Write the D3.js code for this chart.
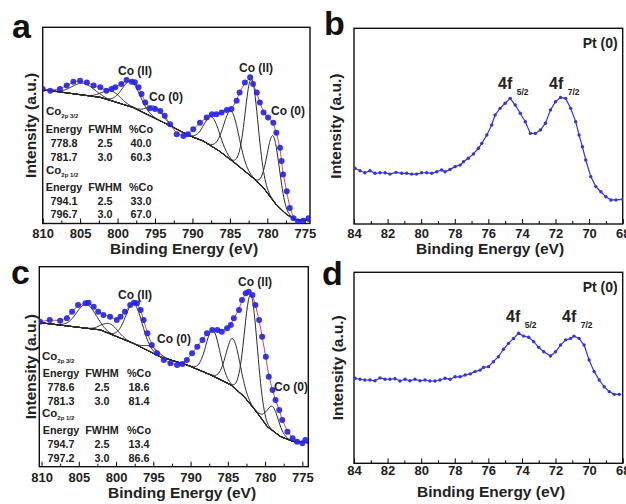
<!DOCTYPE html>
<html>
<head>
<meta charset="utf-8">
<script src="https://cdn.jsdelivr.net/npm/d3@7"></script>
<style>
  body { margin: 0; background: #fff; }
  svg { display: block; font-family: "Liberation Sans", Arial, sans-serif; font-weight: bold; }
</style>
</head>
<body>
<svg id="fig" width="626" height="504"></svg>
<script>
// Co 2p spectra (binding energy in eV, intensity in a.u.)
const CO_A_E = [810.0, 809.0, 807.7, 806.8, 805.9, 805.0, 804.1, 803.2, 802.3, 801.5, 800.8, 800.3, 799.5, 798.8, 798.1, 797.7, 797.2, 796.8, 796.3, 795.7, 795.0, 794.3, 793.7, 793.0, 792.1, 791.2, 790.6, 789.9, 789.0, 788.1, 787.4, 786.8, 786.1, 785.4, 784.8, 784.1, 783.7, 783.0, 782.3, 781.9, 781.4, 781.0, 780.5, 779.9, 779.2, 778.8, 778.3, 778.1, 777.9, 777.4, 777.0, 776.5, 775.9, 775.2, 774.5];
const CO_A_I = [68.6, 67.7, 68.6, 70.3, 72.3, 72.8, 71.9, 70.3, 69.4, 67.7, 68.6, 69.4, 71.1, 73.2, 72.3, 72.0, 69.4, 66.0, 61.7, 58.8, 58.3, 57.4, 54.9, 50.6, 45.5, 44.6, 45.5, 48.0, 51.4, 54.0, 55.7, 55.7, 56.6, 57.8, 58.3, 62.6, 66.8, 71.9, 74.5, 71.1, 66.8, 61.7, 56.6, 54.0, 51.4, 46.3, 38.6, 31.9, 25.0, 16.4, 7.9, 2.7, 1.0, 1.4, 2.7];
const CO_A_BG_E = [810.0, 802.3, 797.9, 793.4, 790.3, 788.6, 786.4, 784.1, 781.9, 780.5, 778.8, 777.4, 776.1, 774.3];
const CO_A_BG_I = [68.2, 64.3, 59.1, 50.6, 44.6, 42.1, 36.9, 30.1, 23.2, 18.1, 9.6, 4.5, 1.9, 1.4];
// fitted components: [centre, FWHM, height above background]
const CO_A_PEAKS = [[804.6, 3.4, 6], [800.8, 2.8, 5], [798.2, 2.8, 13], [795.0, 2.4, 6], [787.4, 2.4, 15], [784.8, 2.4, 25], [782.1, 2.0, 50], [779.2, 1.9, 33]];
const CO_A_TABLE_32 = [["778.8", "2.5", "40.0"], ["781.7", "3.0", "60.3"]];
const CO_A_TABLE_12 = [["794.1", "2.5", "33.0"], ["796.7", "3.0", "67.0"]];

const CO_C_E = [810.2, 808.9, 807.5, 806.6, 805.9, 805.1, 804.1, 803.7, 803.0, 802.4, 801.7, 800.8, 799.9, 799.4, 798.8, 798.1, 797.6, 797.2, 796.7, 796.3, 795.8, 795.2, 794.5, 793.6, 792.7, 791.8, 791.1, 790.5, 789.8, 789.1, 788.4, 787.8, 787.1, 786.4, 785.8, 785.1, 784.6, 784.2, 783.5, 783.1, 782.6, 782.2, 781.7, 781.3, 780.8, 780.4, 779.9, 779.5, 779.0, 778.6, 778.1, 777.7, 777.0, 776.3, 775.7, 775.0, 774.6];
const CO_C_I = [72.5, 73.4, 73.0, 74.2, 77.5, 80.9, 81.7, 82.0, 80.0, 77.5, 75.9, 75.0, 73.4, 75.0, 77.5, 80.9, 82.0, 81.7, 78.4, 73.4, 66.7, 60.9, 56.7, 53.4, 51.7, 50.9, 51.4, 53.4, 56.7, 60.0, 63.4, 66.7, 68.4, 68.4, 67.5, 69.2, 70.9, 74.2, 78.4, 83.4, 86.7, 87.5, 85.9, 80.9, 73.4, 65.0, 55.0, 45.0, 38.4, 33.4, 28.4, 23.4, 17.5, 14.2, 12.5, 11.7, 13.4];
const CO_C_BG_E = [810.2, 802.1, 797.7, 794.1, 790.5, 787.3, 784.6, 782.8, 781.0, 779.7, 777.9, 776.1, 774.2];
const CO_C_BG_I = [72.0, 68.4, 61.7, 55.0, 50.9, 45.9, 40.9, 35.0, 26.7, 20.0, 15.0, 12.5, 12.0];
const CO_C_PEAKS = [[804.0, 3.0, 12], [800.8, 2.5, 5], [797.6, 2.6, 20], [795.2, 2.2, 3], [787.0, 2.2, 23], [784.3, 2.2, 24], [781.9, 2.0, 55], [779.0, 1.9, 12]];
const CO_C_TABLE_32 = [["778.6", "2.5", "18.6"], ["781.3", "3.0", "81.4"]];
const CO_C_TABLE_12 = [["794.7", "2.5", "13.4"], ["797.2", "3.0", "86.6"]];

// Pt 4f spectra
const PT_B_E = [83.94, 83.64, 83.35, 83.05, 82.75, 82.45, 82.15, 81.86, 81.5, 81.16, 80.86, 80.57, 80.27, 79.97, 79.67, 79.37, 79.07, 78.78, 78.58, 78.28, 77.98, 77.68, 77.48, 77.19, 76.89, 76.59, 76.39, 76.09, 75.8, 75.6, 75.3, 75.0, 74.7, 74.4, 74.1, 73.8, 73.5, 73.2, 72.9, 72.6, 72.3, 72.0, 71.7, 71.4, 71.1, 70.8, 70.6, 70.4, 70.2, 69.9, 69.6, 69.3, 69.0, 68.7, 68.4, 68.0];
const PT_B_I = [28.5, 27.2, 26.2, 27.2, 25.9, 26.2, 26.2, 25.5, 26.4, 25.9, 25.9, 25.5, 25.5, 26.2, 26.2, 25.9, 26.7, 27.6, 26.7, 27.9, 29.3, 30.1, 31.8, 33.6, 35.8, 38.7, 41.2, 45.5, 50.6, 55.7, 59.1, 61.7, 64.2, 60.8, 56.6, 52.3, 46.3, 46.3, 48.0, 51.5, 58.3, 62.5, 64.7, 64.2, 59.1, 52.3, 45.5, 39.5, 32.7, 24.2, 19.1, 16.5, 13.9, 12.3, 12.3, 12.6];
const PT_D_E = [83.94, 83.64, 83.35, 83.05, 82.75, 82.45, 82.15, 81.86, 81.56, 81.26, 80.96, 80.67, 80.37, 80.07, 79.77, 79.48, 79.18, 78.88, 78.58, 78.28, 77.98, 77.68, 77.38, 77.08, 76.79, 76.49, 76.29, 75.99, 75.7, 75.4, 75.1, 74.8, 74.5, 74.2, 73.9, 73.6, 73.3, 73.0, 72.7, 72.3, 72.0, 71.7, 71.4, 71.1, 70.9, 70.6, 70.3, 70.0, 69.7, 69.4, 69.1, 68.8, 68.5, 68.2];
const PT_D_I = [44.5, 44.0, 43.6, 43.6, 43.2, 44.7, 44.0, 44.0, 44.3, 43.1, 44.0, 43.2, 44.0, 43.2, 43.6, 43.1, 43.1, 43.6, 44.5, 44.0, 45.3, 45.3, 46.2, 46.8, 48.0, 48.8, 50.2, 50.6, 53.2, 55.8, 59.7, 62.8, 65.4, 68.1, 66.6, 66.0, 63.7, 60.7, 58.4, 56.2, 58.4, 61.9, 64.6, 65.4, 66.6, 65.4, 61.9, 54.1, 48.0, 43.6, 40.1, 37.5, 36.1, 36.1];

// tick labels
const CO_TICKS = [810, 805, 800, 795, 790, 785, 780, 775];
const CO_MINOR = [807.5, 802.5, 797.5, 792.5, 787.5, 782.5, 777.5];
const PT_TICKS = [84, 82, 80, 78, 76, 74, 72, 70, 68];
const PT_MINOR = [83, 81, 79, 77, 75, 73, 71, 69];

const SVG = d3.select("#fig");
const BLUE = "#2222e6";
const PT_BLUE = "#3434d8";

// frame, axis ticks, axis titles and the panel letter
function frame(p, ticks, minor, fmt) {
  const g = SVG.append("g");
  g.append("rect")
    .attr("x", p.x0).attr("y", p.y0)
    .attr("width", p.x1 - p.x0).attr("height", p.y1 - p.y0)
    .attr("fill", "none").attr("stroke", "#111").attr("stroke-width", 1.4);

  const ax = g.append("g").attr("transform", `translate(0,${p.y1})`)
    .call(d3.axisBottom(p.x).tickValues(ticks).tickSize(-5).tickPadding(p.pad).tickFormat(fmt));
  ax.select(".domain").remove();
  ax.selectAll("text").attr("font-size", 13).attr("font-weight", "bold")
    .attr("font-family", "Liberation Sans, Arial, sans-serif").attr("fill", "#222");
  const mi = g.append("g").attr("transform", `translate(0,${p.y1})`)
    .call(d3.axisBottom(p.x).tickValues(minor).tickSize(-3).tickFormat(""));
  mi.select(".domain").remove();

  g.append("text")
    .attr("transform", `translate(${p.yTitleX},${(p.y0 + p.y1) / 2}) rotate(-90)`)
    .attr("text-anchor", "middle").attr("font-size", 15.5).attr("fill", "#222")
    .text("Intensity (a.u.)");
  g.append("text")
    .attr("x", p.xTitleX).attr("y", p.xTitleY)
    .attr("text-anchor", "middle").attr("font-size", 15.5).attr("fill", "#222")
    .text("Binding Energy (eV)");
  g.append("text")
    .attr("x", p.letterX).attr("y", p.letterY)
    .attr("font-size", 34).attr("fill", "#111")
    .text(p.letter);

  const id = "clip-" + p.letter;
  SVG.append("clipPath").attr("id", id).append("rect")
    .attr("x", p.x0).attr("y", p.y0)
    .attr("width", p.x1 - p.x0).attr("height", p.y1 - p.y0);
  return SVG.append("g").attr("clip-path", `url(#${id})`);
}

function coPanel(p, E, I, bgE, bgI, peaks, t32, t12, labels) {
  p.x = d3.scaleLinear().domain(p.dom).range([p.x0, p.x1]);
  p.y = d3.scaleLinear().domain([0, 100]).range([p.y1, p.y0]);
  const plot = frame(p, CO_TICKS, CO_MINOR, d3.format("d"));

  const bgAt = d3.scaleLinear().domain(bgE).range(bgI).clamp(true);
  const grid = d3.range(p.dom[0], p.dom[1] - 0.05, -0.1);
  const line = d3.line().x(d => p.x(d[0])).y(d => p.y(d[1])).curve(d3.curveBasis);
  const gauss = (e, pk) => pk[2] * Math.exp(-4 * Math.LN2 * ((e - pk[0]) / pk[1]) ** 2);

  // fitted components sitting on the background
  peaks.forEach(pk => {
    plot.append("path")
      .attr("d", line(grid.map(e => [e, bgAt(e) + gauss(e, pk)])))
      .attr("fill", "none").attr("stroke", "#2a2a2a").attr("stroke-width", 1);
  });
  plot.append("path")
    .attr("d", line(grid.map(e => [e, bgAt(e)])))
    .attr("fill", "none").attr("stroke", "#2a2a2a").attr("stroke-width", 1.1);

  const pts = d3.zip(E, I);
  // fit envelope
  plot.append("path")
    .attr("d", line(pts))
    .attr("fill", "none").attr("stroke", "#d0406a").attr("stroke-width", 1);
  plot.selectAll("circle.pt").data(pts).enter().append("circle")
    .attr("class", "pt")
    .attr("cx", d => p.x(d[0])).attr("cy", d => p.y(d[1]))
    .attr("r", 3).attr("fill", BLUE).attr("fill-opacity", 0.9);

  // peak labels
  labels.forEach(l => {
    SVG.append("text").attr("x", l[1]).attr("y", l[2])
      .attr("text-anchor", "middle").attr("font-size", 12).attr("fill", "#222")
      .text(l[0]);
  });

  // fit table
  const tb = SVG.append("g").attr("font-size", 10.8).attr("fill", "#222");
  const cols = p.cols;
  const coLine = (y, sub) => {
    const t = tb.append("text").attr("x", p.tx).attr("y", y).attr("font-size", 11.5);
    t.append("tspan").text("Co");
    t.append("tspan").attr("font-size", 6).attr("dy", 3).text(sub);
  };
  const header = y => ["Energy", "FWHM", "%Co"].forEach((h, i) =>
    tb.append("text").attr("x", cols[i]).attr("y", y).attr("text-anchor", "middle").text(h));
  const rows = (rs, y) => rs.forEach((r, j) => r.forEach((v, i) =>
    tb.append("text").attr("x", cols[i]).attr("y", y + j * p.dy).attr("text-anchor", "middle").text(v)));
  coLine(p.ty[0], "2p 3/2");
  header(p.ty[1]);
  rows(t32, p.ty[2]);
  coLine(p.ty[3], "2p 1/2");
  header(p.ty[4]);
  rows(t12, p.ty[5]);
}

function ptPanel(p, E, I, labels) {
  p.x = d3.scaleLinear().domain([84, 68]).range([p.x0, p.x1]);
  p.y = d3.scaleLinear().domain([0, 100]).range([p.y1, p.y0]);
  const plot = frame(p, PT_TICKS, PT_MINOR, d3.format("d"));
  const pts = d3.zip(E, I);
  plot.append("path")
    .attr("d", d3.line().x(d => p.x(d[0])).y(d => p.y(d[1]))(pts))
    .attr("fill", "none").attr("stroke", PT_BLUE).attr("stroke-width", 1.2);
  plot.selectAll("circle.pt").data(pts).enter().append("circle")
    .attr("cx", d => p.x(d[0])).attr("cy", d => p.y(d[1]))
    .attr("r", 1.7).attr("fill", PT_BLUE);

  SVG.append("text").attr("x", p.x1 - 5).attr("y", p.y0 + 20)
    .attr("text-anchor", "end").attr("font-size", 14).attr("fill", "#222").text("Pt (0)");
  labels.forEach(l => {
    const t = SVG.append("text").attr("x", l[1]).attr("y", l[2]).attr("font-size", 16).attr("fill", "#222");
    t.append("tspan").text("4f ");
    t.append("tspan").attr("font-size", 8.5).attr("dy", 6).text(l[0]);
  });
}

coPanel(
  { letter: "a", x0: 42.7, y0: 27.3, x1: 310, y1: 223.5, dom: [810, 774.3], pad: 5,
    yTitleX: 36, xTitleX: 184, xTitleY: 253.5, letterX: 12, letterY: 38,
    tx: 46, cols: [64, 105, 141], dy: 13.5, ty: [114.5, 132.5, 147, 174, 191, 204.5] },
  CO_A_E, CO_A_I, CO_A_BG_E, CO_A_BG_I, CO_A_PEAKS, CO_A_TABLE_32, CO_A_TABLE_12,
  [["Co (II)", 135, 75], ["Co (0)", 166, 101], ["Co (II)", 256, 72], ["Co (0)", 288, 115]]
);
coPanel(
  { letter: "c", x0: 39.3, y0: 266.7, x1: 308.3, y1: 466.7, dom: [810.3, 774.2], pad: 6,
    yTitleX: 36, xTitleX: 182, xTitleY: 497.5, letterX: 11, letterY: 284,
    tx: 42, cols: [61, 102, 139], dy: 14, ty: [359.5, 377, 391, 417, 433.5, 447.5] },
  CO_C_E, CO_C_I, CO_C_BG_E, CO_C_BG_I, CO_C_PEAKS, CO_C_TABLE_32, CO_C_TABLE_12,
  [["Co (II)", 135, 299], ["Co (0)", 174, 342.5], ["Co (II)", 255, 286], ["Co (0)", 291, 391]]
);
ptPanel(
  { letter: "b", x0: 354, y0: 28.3, x1: 622.7, y1: 224, pad: 5,
    yTitleX: 341, xTitleX: 490, xTitleY: 253.5, letterX: 324, letterY: 35 },
  PT_B_E, PT_B_I,
  [["5/2", 498, 89], ["7/2", 549, 89]]
);
ptPanel(
  { letter: "d", x0: 354, y0: 272.3, x1: 622.7, y1: 463.3, pad: 2,
    yTitleX: 343, xTitleX: 491, xTitleY: 496.5, letterX: 322, letterY: 285 },
  PT_D_E, PT_D_I,
  [["5/2", 506, 322], ["7/2", 562, 322]]
);
</script>
</body>
</html>
